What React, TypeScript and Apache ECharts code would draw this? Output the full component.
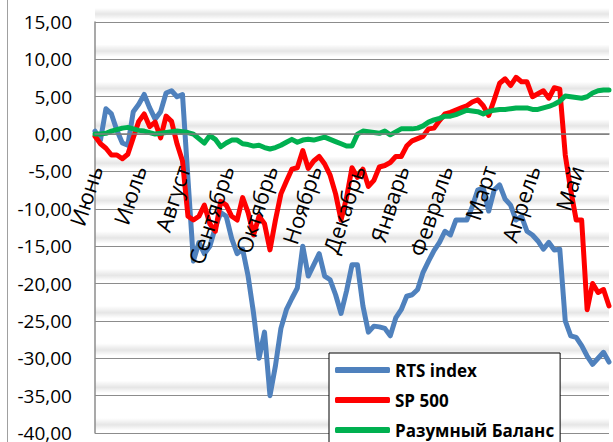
import React, { useEffect, useRef } from "react";
import * as echarts from "echarts";

const months = ["Июнь", "Июль", "Август", "Сентябрь", "Октябрь", "Ноябрь", "Декабрь", "Январь", "Февраль", "Март", "Апрель", "Май"];
const pointsPerMonth = 8;

const rts = [
  0.4, -0.8, 3.4, 2.7, 0.5, -1.2, -1.5, 3.0, 4.0, 5.3,
  3.5, 2.0, 3.0, 5.5, 5.8, 5.0, 5.3, -6, -17, -14.5,
  -16, -15, -12.5, -10.5, -11, -14, -16, -15.4, -19, -24,
  -30, -26.5, -35, -31, -26, -23.5, -22, -20.6, -15, -19,
  -17.5, -16, -19, -19.5, -21.5, -24, -21, -17.5, -17.5, -23,
  -26.5, -25.7, -25.8, -26, -27, -24.6, -23.5, -21.7, -21.5, -20.8,
  -18.5, -17, -15.6, -14.5, -13, -13.5, -11.5, -11.5, -11.5, -9.7,
  -7.5, -7.2, -10.3, -7.5, -6.8, -8.7, -9.5, -11.5, -11, -13,
  -13.5, -14.3, -15.4, -14.5, -15.5, -15.4, -25, -27, -27.2, -28.3,
  -29.7, -30.8, -30, -29.2, -30.5,
];

const sp500 = [
  -0.3, -1.3, -1.9, -2.8, -2.8, -3.3, -2.7, -0.5, 1.7, 2.7,
  1.0, 1.6, -0.5, 2.4, 1.7, -1.3, -3.6, -11, -11.5, -11,
  -9.5, -12, -13, -9, -9.5, -11, -11.5, -8.5, -10.5, -13.5,
  -11, -12, -15.5, -11.5, -8, -6.3, -4.7, -4.5, -2.2, -4.6,
  -3.6, -3, -4, -5.5, -8, -11.5, -8.5, -4.5, -5.8, -4.7,
  -7, -6.2, -4.4, -4.2, -3.8, -3, -3, -1.6, -0.9, -0.6,
  -0.3, 0.7, 0.8, 1.8, 2.7, 2.9, 3.2, 3.5, 3.8, 4.3,
  4.6, 3.8, 2.5, 4.6, 6.8, 7.4, 6.5, 7.6, 7, 7,
  5, 5.4, 5.8, 4.8, 6.2, 6, -2.8, -7.5, -11.5, -11.5,
  -23.5, -20, -21.2, -20.8, -23,
];

const balance = [
  0, 0, 0.1, 0.4, 0.6, 0.8, 0.9, 0.7, 0.5, 0.4,
  0.2, 0.0, 0.1, 0.2, 0.3, 0.4, 0.3, 0.2, 0, -0.6,
  -1.2, -0.2, -0.7, -1.7, -1.2, -0.8, -0.8, -1.3, -1.4, -1.6,
  -1.5, -1.8, -2, -1.8, -1.5, -1.1, -0.7, -1.1, -0.8, -0.7,
  -0.8, -0.6, -0.4, -0.7, -1.0, -1.3, -1.6, -1.6, 0, 0.4,
  0.3, 0.2, 0.1, 0.4, -0.1, 0.3, 0.7, 0.7, 0.7, 0.8,
  1.1, 1.6, 1.9, 2.1, 2.4, 2.4, 2.6, 2.9, 3.2, 3.1,
  3.0, 2.7, 3.0, 3.2, 3.3, 3.3, 3.4, 3.5, 3.5, 3.5,
  3.3, 3.3, 3.5, 3.7, 4.0, 4.4, 5.1, 5.0, 4.9, 4.8,
  5.0, 5.5, 5.8, 5.9, 5.9,
];

const seriesNames = ["RTS index", "SP 500", "Разумный Баланс"];
const seriesColors = ["#4F81BD", "#FF0000", "#00B050"];

const Y_MIN = -40;
const Y_MAX = 15;
const Y_STEP = 5;

const FONT = "'Open Sans', 'Noto Sans', sans-serif";

const GRID_LEFT = 95;
const GRID_RIGHT = 4;
const GRID_TOP = 22;
const GRID_BOTTOM = 9;
const H = 442;

export default function App() {
  const ref = useRef<HTMLDivElement>(null);
  useEffect(() => {
    if (!ref.current) return;
    const chart = echarts.init(ref.current, undefined, { renderer: "svg" });
    const categories = rts.map((_, i) => (i % pointsPerMonth === 0 ? months[i / pointsPerMonth] ?? "" : ""));
    const seriesData = [rts, sp500, balance];
    const plotH = H - GRID_TOP - GRID_BOTTOM;
    const zeroY = GRID_TOP + ((Y_MAX - 0) / (Y_MAX - Y_MIN)) * plotH;
    const xOffset = -(H - GRID_BOTTOM - zeroY);
    const bandShade = new echarts.graphic.LinearGradient(0, 0, 0, 1, [
      { offset: 0, color: "rgba(0,0,0,0)" },
      { offset: 0.6, color: "rgba(0,0,0,0)" },
      { offset: 0.78, color: "rgba(0,0,0,0.10)" },
      { offset: 0.93, color: "rgba(0,0,0,0)" },
      { offset: 1, color: "rgba(0,0,0,0)" },
    ]);
    const topShade = new echarts.graphic.LinearGradient(0, 0, 0, 1, [
      { offset: 0, color: "rgba(0,0,0,0)" },
      { offset: 0.5, color: "rgba(0,0,0,0.10)" },
      { offset: 1, color: "rgba(0,0,0,0)" },
    ]);
    chart.setOption({
      animation: false,
      backgroundColor: "#ffffff",
      grid: { left: GRID_LEFT, right: GRID_RIGHT, top: GRID_TOP, bottom: GRID_BOTTOM, containLabel: false, outerBoundsMode: "none" },
      legend: {
        orient: "vertical",
        left: 329,
        top: 353,
        height: 120,
        backgroundColor: "#ffffff",
        borderColor: "#000000",
        borderWidth: 1,
        borderRadius: 0,
        padding: [7, 6, 30, 6],
        itemGap: 10,
        itemWidth: 55,
        itemHeight: 6,
        itemStyle: { borderWidth: 0 },
        icon: "roundRect",
        textStyle: { fontFamily: FONT, fontSize: 17, fontWeight: "bold", color: "#000", lineHeight: 20 },
        data: seriesNames,
        z: 20,
      },
      xAxis: {
        type: "category",
        data: categories,
        boundaryGap: false,
        offset: xOffset,
        z: 10,
        axisLine: { onZero: false, lineStyle: { color: "#7f7f7f", width: 1.5 } },
        axisTick: { show: false },
        axisLabel: {
          interval: (idx: number) => idx % pointsPerMonth === 0,
          rotate: 72,
          margin: 32,
          fontFamily: FONT,
          fontSize: 22,
          color: "#000",
          hideOverlap: false,
        },
        splitLine: { show: false },
      },
      yAxis: {
        type: "value",
        min: Y_MIN,
        max: Y_MAX,
        interval: Y_STEP,
        axisLine: { show: true, lineStyle: { color: "#8c8c8c", width: 1.5 } },
        axisTick: { show: false },
        axisLabel: {
          margin: 23,
          fontFamily: FONT,
          fontSize: 19,
          color: "#000",
          formatter: (v: number) => v.toFixed(2).replace(".", ","),
        },
        splitLine: { show: true, lineStyle: { color: "#8c8c8c", width: 1 } },
        splitArea: { show: true, areaStyle: { color: [bandShade] } },
      },
      series: seriesNames.map((name, k) => ({
        name,
        type: "line",
        data: seriesData[k],
        showSymbol: false,
        symbol: "none",
        smooth: false,
        z: k === 2 ? 4 : k === 1 ? 3 : 2,
        lineStyle: { color: seriesColors[k], width: 5, cap: "round", join: "round" },
        itemStyle: { color: seriesColors[k] },
      })),
      graphic: [
        {
          type: "line",
          shape: { x1: 7.5, y1: 0, x2: 7.5, y2: H },
          style: { stroke: "#a0a0a0", lineWidth: 1 },
          silent: true,
        },
        {
          type: "rect",
          shape: { x: GRID_LEFT, y: GRID_TOP - 14, width: 613 - GRID_LEFT - GRID_RIGHT, height: 12 },
          style: { fill: topShade },
          silent: true,
          z: -1,
        },
      ],
    });
    return () => chart.dispose();
  }, []);
  return <div ref={ref} style={{ width: 613, height: 442, position: "fixed", left: 0, top: 0 }} />;
}
